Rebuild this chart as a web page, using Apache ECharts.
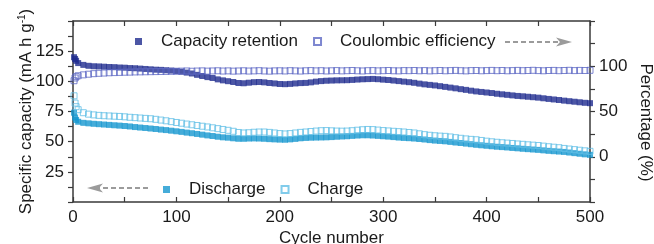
<!DOCTYPE html>
<html>
<head>
<meta charset="utf-8">
<script src="https://cdn.jsdelivr.net/npm/echarts@6/dist/echarts.min.js"></script>
<style>
  html, body { margin: 0; padding: 0; background: #fff; }
  #chart { width: 654px; height: 244px; }
</style>
</head>
<body>
<div id="chart"></div>
<script>
var cycles = [1, 2, 3, 5, 10, 15, 20, 25, 30, 35, 40, 45, 50, 55, 60, 65, 70, 75, 80, 85, 90, 95, 100,
  105, 110, 115, 120, 125, 130, 135, 140, 145, 150, 155, 160, 165, 170, 175, 180, 185, 190, 195, 200,
  205, 210, 215, 220, 225, 230, 235, 240, 245, 250, 255, 260, 265, 270, 275, 280, 285, 290, 295, 300,
  305, 310, 315, 320, 325, 330, 335, 340, 345, 350, 355, 360, 365, 370, 375, 380, 385, 390, 395, 400,
  405, 410, 415, 420, 425, 430, 435, 440, 445, 450, 455, 460, 465, 470, 475, 480, 485, 490, 495, 500];

// percentage (right axis)
var retention = [110, 108, 106, 103.5, 101.5, 100.5, 100, 99.8, 99.5, 99.2, 99, 98.6, 98.4, 98, 97.8, 97.4, 97, 96.6, 96.2, 96, 95.6, 95.2, 94.6,
  94, 93, 92, 90.5, 89.2, 88, 87, 85.5, 84.4, 83.5, 82.6, 81.5, 81.2, 81.8, 82.4, 82.6, 82.2, 81.5, 81, 80.4,
  80.2, 80.5, 81, 81.4, 81.6, 82.2, 83, 83.6, 84, 84.2, 84.4, 84.5, 84.6, 84.9, 85.3, 85.6, 85.8, 86, 85.7, 85.2,
  84.8, 84.2, 83.6, 83, 82.4, 81.7, 80.8, 80, 79.4, 78.8, 78, 77.2, 76.4, 75.6, 74.7, 73.9, 73, 72.2, 71.6, 71,
  70.4, 69.6, 69, 68.4, 67.8, 67.2, 66.8, 66.3, 65.8, 65.3, 64.6, 63.9, 63.3, 62.7, 62, 61.4, 60.8, 60.2, 59.6, 59.2];
var coulombic = [84, 87, 88.5, 89.5, 90.5, 91.2, 91.8, 92.2, 92.5, 92.8, 93, 93.2, 93.4, 93.5, 93.7, 93.8, 93.9, 94, 94.1, 94.2, 94.3, 94.4, 94.5,
  94.6, 94.8, 94.5, 94.7, 94.9, 94.6, 94.8, 95, 94.7, 94.9, 94.6, 94.8, 95, 94.7, 94.9, 95.1, 94.8, 94.6, 94.9, 95,
  94.8, 95.1, 94.9, 94.7, 95, 95.2, 94.9, 95.1, 94.8, 95, 95.2, 94.9, 95.1, 95.3, 95, 94.8, 95.1, 95.2, 94.9, 95.1,
  95.3, 95, 94.9, 95.2, 95.1, 95.3, 95, 95.2, 94.9, 95.1, 95.3, 95, 95.2, 95.4, 95.1, 94.9, 95.2, 95.3, 95, 95.2,
  95.4, 95.1, 95.3, 95, 95.2, 95.4, 95.1, 95.3, 95.5, 95.2, 95, 95.3, 95.4, 95.1, 95.3, 95.5, 95.2, 95.4, 95.3, 95.5];

// specific capacity, mA h g-1 (left axis)
var discharge = [74, 70, 68, 66.5, 65.6, 65.2, 64.8, 64.5, 64.2, 63.9, 63.6, 63.3, 63, 62.6, 62.1, 61.7, 61.3, 60.9, 60.5, 60, 59.6, 59.1, 58.6,
  58.1, 57.5, 57, 56.4, 55.8, 55.2, 54.7, 54.1, 53.6, 53.3, 52.8, 52.4, 52.4, 52.6, 52.7, 52.6, 52.4, 52.1, 51.9, 51.7,
  51.6, 51.9, 52.3, 52.8, 53.1, 53.3, 53.4, 53.5, 53.6, 53.8, 54.1, 54.3, 54.5, 54.8, 55.1, 55.3, 55.3, 55.1, 54.8, 54.5,
  54.2, 53.8, 53.4, 53.1, 52.9, 52.6, 52.2, 51.8, 51.3, 50.9, 50.6, 50.3, 49.8, 49.3, 48.9, 48.4, 47.9, 47.4, 47, 46.6,
  46.2, 45.8, 45.5, 45.2, 44.8, 44.5, 44.1, 43.8, 43.5, 43.2, 42.8, 42.4, 42.1, 41.8, 41.5, 41, 40.5, 40, 39.5, 39.1];
var charge = [88, 82, 79, 76.5, 74, 72.8, 72.2, 71.8, 71.5, 71.3, 71.1, 70.9, 70.6, 70.2, 69.9, 69.6, 69.3, 69, 68.5, 67.9, 67.3, 66.6, 65.9,
  65.3, 64.6, 64, 63.4, 62.8, 62.2, 61.5, 60.8, 60.1, 59.4, 58.6, 57.6, 57.2, 57.4, 57.8, 58, 58, 57.7, 57.2, 56.7,
  56.4, 56.7, 57.2, 57.7, 58, 58.4, 58.8, 59.1, 59.2, 59, 58.8, 58.7, 58.8, 59.1, 59.5, 59.9, 60.1, 60, 59.6, 59.2,
  58.9, 58.6, 58.3, 58, 57.6, 57.2, 56.5, 55.8, 55.3, 54.9, 54.6, 54.4, 53.9, 53.3, 52.8, 52.3, 51.9, 51.6, 51, 50.4,
  49.9, 49.5, 49.1, 48.8, 48.5, 48.1, 47.8, 47.4, 47.1, 46.8, 46.3, 45.8, 45.4, 45, 44.4, 43.9, 43.4, 42.9, 42.4, 42];

var FONT = 'Liberation Sans, Arial, sans-serif';
var AXIS_COLOR = '#3a3a3a';
var TEXT_COLOR = '#1a1a1a';
var FS = 17;

function pairs(ys) {
  return cycles.map(function (c, i) { return [c, ys[i]]; });
}

var chart = echarts.init(document.getElementById('chart'), null, { renderer: 'canvas' });

var axisLineStyle = { show: true, onZero: false, lineStyle: { color: AXIS_COLOR, width: 1.5 } };
var labelStyle = { color: TEXT_COLOR, fontSize: FS, fontFamily: FONT };
var tickStyle = { color: AXIS_COLOR, width: 1.2 };

var option = {
  animation: false,
  textStyle: { fontFamily: FONT },
  grid: { left: 73, right: 64, top: 21, bottom: 42, outerBoundsMode: 'none', containLabel: false },
  legend: [
    {
      left: 135, top: 33, padding: 0, itemGap: 15,
      itemWidth: 7, itemHeight: 7,
      textStyle: { color: TEXT_COLOR, fontSize: FS, fontFamily: FONT, padding: [0, 0, 0, 14] },
      data: [
        { name: 'Capacity retention', icon: 'rect' },
        { name: 'Coulombic efficiency', icon: 'rect' }
      ]
    },
    {
      left: 163, top: 181, padding: 0, itemGap: 15,
      itemWidth: 7, itemHeight: 7,
      textStyle: { color: TEXT_COLOR, fontSize: FS, fontFamily: FONT, padding: [0, 0, 0, 14] },
      data: [
        { name: 'Discharge', icon: 'rect' },
        { name: 'Charge', icon: 'rect' }
      ]
    }
  ],
  xAxis: [
    {
      type: 'value', min: 0, max: 500, interval: 50,
      name: 'Cycle number', nameLocation: 'middle', nameGap: 28, nameMoveOverlap: false,
      nameTextStyle: labelStyle,
      axisLine: axisLineStyle,
      axisTick: { inside: true, length: 5, lineStyle: tickStyle },
      axisLabel: Object.assign({ margin: 7, formatter: function (v) { return v % 100 === 0 ? v : ''; } }, labelStyle),
      splitLine: { show: false }
    },
    {
      type: 'value', min: 0, max: 500, interval: 50, position: 'top',
      axisLine: axisLineStyle,
      axisTick: { inside: true, length: 5, lineStyle: tickStyle },
      axisLabel: { show: false },
      splitLine: { show: false }
    }
  ],
  yAxis: [
    {
      type: 'value', min: 0, max: 150, interval: 12.5, position: 'left',
      name: 'Specific capacity (mA h g{sup|-1})', nameLocation: 'middle', nameGap: 38, nameMoveOverlap: false,
      nameTextStyle: Object.assign({ rich: { sup: { fontSize: 10, verticalAlign: 'top', padding: [0, 0, 8, 0], color: TEXT_COLOR, fontFamily: FONT } } }, labelStyle),
      axisLine: axisLineStyle,
      axisTick: { inside: false, length: 5, lineStyle: tickStyle },
      axisLabel: Object.assign({
        margin: 9,
        formatter: function (v) { return (v % 25 === 0 && v > 0 && v < 150) ? v : ''; }
      }, labelStyle),
      splitLine: { show: false }
    },
    {
      type: 'value', min: -50, max: 150, interval: 25, position: 'right',
      name: 'Percentage (%)', nameLocation: 'middle', nameGap: 47, nameRotate: -90, nameMoveOverlap: false,
      nameTextStyle: Object.assign({ padding: [0, 0, 0, 22] }, labelStyle),
      axisLine: axisLineStyle,
      axisTick: { inside: false, length: 5, lineStyle: tickStyle },
      axisLabel: Object.assign({
        margin: 9,
        formatter: function (v) { return (v % 50 === 0 && v >= 0 && v <= 100) ? v : ''; }
      }, labelStyle),
      splitLine: { show: false }
    }
  ],
  graphic: [
    // arrow pointing to the right axis
    { type: 'line', shape: { x1: 505, y1: 42, x2: 560, y2: 42 }, style: { stroke: '#9b9b9b', lineWidth: 2, lineDash: [5, 3] } },
    { type: 'polygon', shape: { points: [[556, 37.5], [572, 42], [556, 46.5], [560, 42]] }, style: { fill: '#9b9b9b' } },
    // arrow pointing to the left axis
    { type: 'line', shape: { x1: 148, y1: 188, x2: 99, y2: 188 }, style: { stroke: '#9b9b9b', lineWidth: 2, lineDash: [5, 3] } },
    { type: 'polygon', shape: { points: [[103, 183.5], [87, 188], [103, 192.5], [99, 188]] }, style: { fill: '#9b9b9b' } }
  ],
  series: [
    {
      name: 'Capacity retention', type: 'scatter', xAxisIndex: 0, yAxisIndex: 1,
      symbol: 'rect', symbolSize: 6,
      itemStyle: { color: '#1f2c8f' },
      data: pairs(retention)
    },
    {
      name: 'Coulombic efficiency', type: 'scatter', xAxisIndex: 0, yAxisIndex: 1,
      symbol: 'rect', symbolSize: 6,
      itemStyle: { color: 'rgba(255,255,255,0)', borderColor: '#5e69c4', borderWidth: 1 },
      data: pairs(coulombic)
    },
    {
      name: 'Discharge', type: 'scatter', xAxisIndex: 0, yAxisIndex: 0,
      symbol: 'rect', symbolSize: 6,
      itemStyle: { color: '#1797cf' },
      data: pairs(discharge)
    },
    {
      name: 'Charge', type: 'scatter', xAxisIndex: 0, yAxisIndex: 0,
      symbol: 'rect', symbolSize: 6,
      itemStyle: { color: 'rgba(255,255,255,0)', borderColor: '#62bfe6', borderWidth: 1 },
      data: pairs(charge)
    }
  ]
};

chart.setOption(option);
</script>
</body>
</html>
